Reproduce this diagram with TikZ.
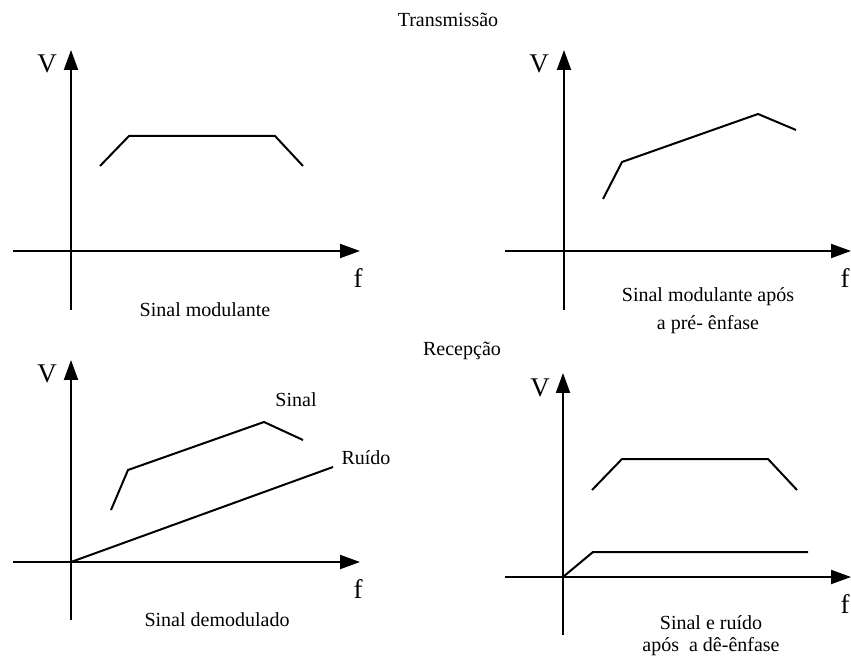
\documentclass[tikz,border=0pt]{standalone}
\usepackage{fontspec}
\setmainfont{Liberation Serif}
\usetikzlibrary{arrows.meta}

\begin{document}
\begin{tikzpicture}[
    x=0.5pt, y=-0.5pt,
    axis/.style={line width=1pt, -{Triangle[length=10pt,width=7pt]}},
    curve/.style={line width=1pt},
    lbl/.style={font=\fontsize{10}{14}\selectfont, align=center, inner sep=0pt},
    axlbl/.style={font=\fontsize{13.5}{14}\selectfont, inner sep=0pt}
  ]
    \useasboundingbox (0,0) rectangle (851,657);

    \node[lbl] (trans) at (448,20)  {Transmissão};
    \node[lbl] (recep) at (462,351) {Recepção};

    % Sinal modulante
    \coordinate (o1) at (71,251);
    \draw[axis] (71,310) -- (71,50);
    \draw[axis] (13,251) -- (360,251);
    \node[axlbl] (v1) at (47,64)  {V};
    \node[axlbl] (f1) at (358,278) {f};
    \draw[curve] (100,166) -- (129,136) -- (275,136) -- (303,166);
    \node[lbl] (mod) at (205,310) {Sinal modulante};

    % apos a pre-enfase
    \draw[axis] (564,310) -- (564,50);
    \draw[axis] (505,251) -- (851,251);
    \node[axlbl] (v2) at (539,64)  {V};
    \node[axlbl] (f2) at (845,278) {f};
    \draw[curve] (603,199) -- (622,162) -- (758,114) -- (796,130);
    \node[lbl] (pre) at (708,311) {Sinal modulante após\\a pré- ênfase};

    % Sinal demodulado
    \coordinate (o3) at (71,562);
    \draw[axis] (71,620) -- (71,360);
    \draw[axis] (13,562) -- (360,562);
    \node[axlbl] (v3) at (47,374)  {V};
    \node[axlbl] (f3) at (358,589) {f};
    \draw[curve] (111,510) -- (128,470) -- (264,422) -- (303,440);
    \draw[curve] (o3) -- (333,467);
    \node[lbl] (sin) at (296,400) {Sinal};
    \node[lbl] (rui) at (366,458) {Ruído};
    \node[lbl] (dem) at (217,620) {Sinal demodulado};

    % apos a de-enfase
    \coordinate (o4) at (563,577);
    \draw[axis] (563,635) -- (563,373);
    \draw[axis] (505,577) -- (851,577);
    \node[axlbl] (v4) at (540,388)  {V};
    \node[axlbl] (f4) at (845,604) {f};
    \draw[curve] (592,490) -- (622,459) -- (768,459) -- (797,490);
    \draw[curve] (o4) -- (593,552) -- (808,552);
    \node[lbl, font=\fontsize{10}{11}\selectfont] (dee) at (711,636) {Sinal e ruído\\após \ a dê-ênfase};
\end{tikzpicture}
\end{document}
